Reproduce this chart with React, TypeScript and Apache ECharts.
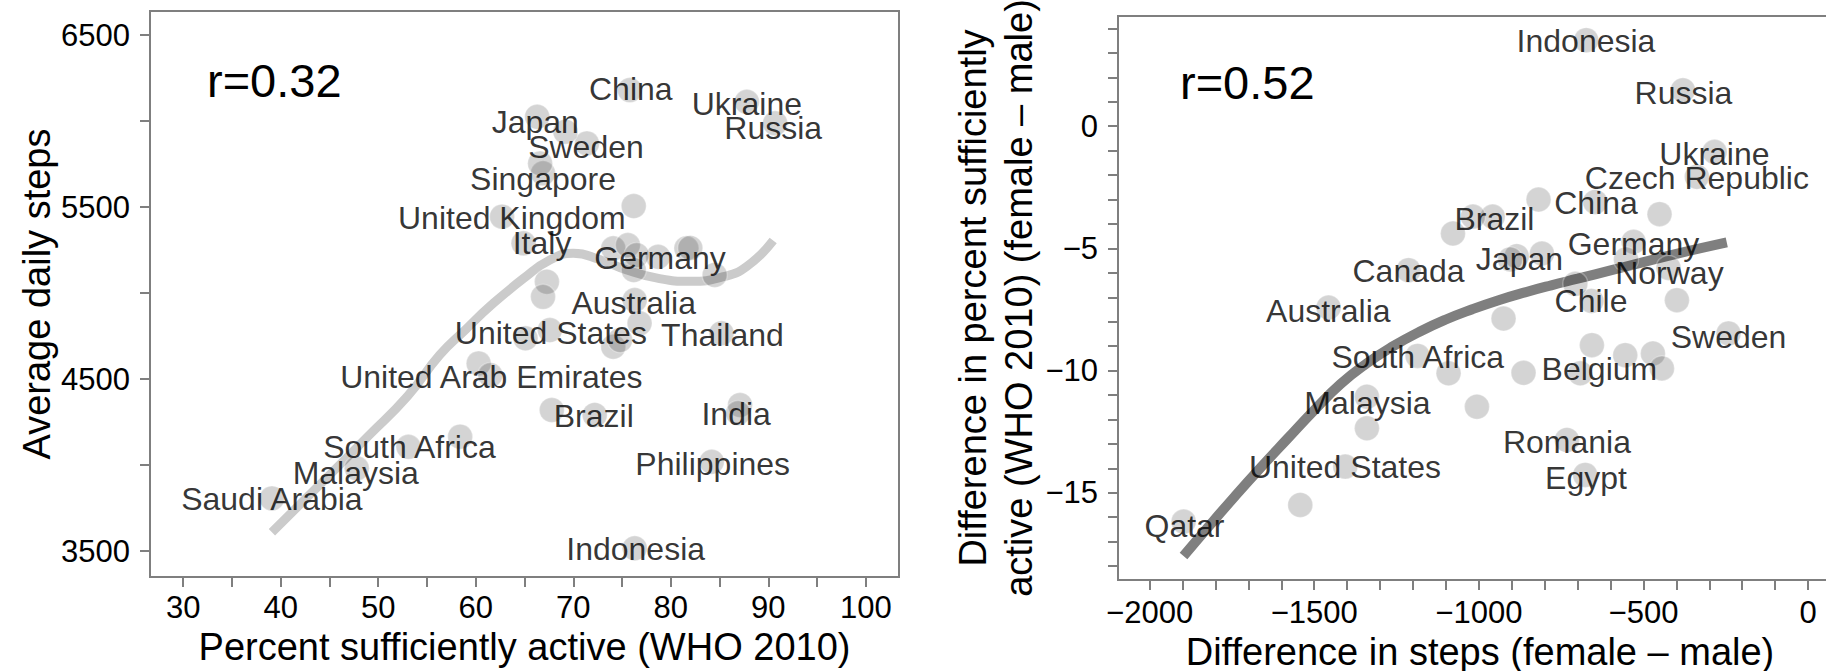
import React, { useEffect, useRef } from "react";
import * as echarts from "echarts";

const FONT = '"Liberation Sans", Arial, Helvetica, sans-serif';

// ---------- Left panel: steps vs percent sufficiently active ----------
const leftNames = [
  "Saudi Arabia", "Malaysia", "South Africa", "United Arab Emirates", "Brazil",
  "India", "Philippines", "Indonesia", "United States", "Thailand",
  "Australia", "Germany", "Italy", "United Kingdom", "Singapore",
  "Sweden", "Japan", "China", "Ukraine", "Russia",
];
const leftDotX = [39.1, 47.8, 53.1, 60.3, 72.2, 87.1, 84.2, 76.3, 67.6, 85.2, 76.3, 78.7, 64.9, 62.7, 66.9, 71.4, 66.3, 75.8, 87.8, 90.7];
const leftDotY = [3806, 3981, 4106, 4591, 4291, 4349, 4019, 3516, 4785, 4766, 4959, 5211, 5289, 5444, 5696, 5870, 6025, 6180, 6112, 5987];
const leftLabelX = [39.1, 47.7, 53.2, 61.6, 72.1, 86.7, 84.3, 76.4, 67.7, 85.3, 76.2, 78.9, 66.8, 63.7, 66.9, 71.3, 66.1, 75.9, 87.8, 90.5];
const leftLabelY = [3801, 3956, 4102, 4512, 4286, 4295, 4005, 3510, 4766, 4756, 4940, 5203, 5291, 5436, 5663, 5849, 5997, 6186, 6102, 5959];
const leftOtherX = [58.4, 61.5, 67.8, 86.9, 65.1, 74.1, 74.8, 76.8, 67.3, 66.9, 76.2, 66.6, 69.2, 74.1, 75.6, 76.5, 76.2, 81.6, 82.0, 84.5];
const leftOtherY = [4165, 4523, 4320, 4302, 4737, 4688, 4727, 4824, 5066, 4978, 5506, 5754, 5938, 5260, 5279, 5221, 5134, 5260, 5262, 5105];
const leftCurveX = [39.1, 44, 49, 53, 56.3, 59, 61.5, 64.9, 67.6, 70, 72.7, 75.5, 78.5, 82, 85.4, 87.8, 90.5];
const leftCurveY = [3609, 3885, 4170, 4400, 4640, 4790, 4925, 5085, 5192, 5231, 5195, 5134, 5088, 5068, 5095, 5155, 5305];
const leftXTicks = [30, 35, 40, 45, 50, 55, 60, 65, 70, 75, 80, 85, 90, 95, 100];
const leftXLabels = [30, 40, 50, 60, 70, 80, 90, 100];
const leftYTicks = [3500, 4000, 4500, 5000, 5500, 6000, 6500];
const leftYLabels = [3500, 4500, 5500, 6500];

// ---------- Right panel: gender differences ----------
const rightNames = [
  "Indonesia", "Russia", "Ukraine", "Czech Republic", "China", "Brazil",
  "Germany", "Japan", "Canada", "Norway", "Chile", "Australia", "Sweden",
  "South Africa", "Belgium", "Malaysia", "Romania", "United States", "Egypt", "Qatar",
];
const rightDotX = [-673.9, -380.2, -284, -337.7, -646.5, -958, -530, -885, -1213.5, -424, -658, -1456.4, -241.7, -1186, -692, -1340, -732.5, -1405.7, -676.9, -1896.7];
const rightDotY = [3.52, 1.47, -1.05, -2.07, -3.1, -3.7, -4.73, -5.32, -5.89, -5.8, -7.15, -7.42, -8.48, -9.4, -10.11, -11.07, -12.84, -13.93, -14.27, -16.18];
const rightLabelX = [-674.5, -378.4, -284.5, -337.7, -644, -952.6, -530.2, -876.7, -1213.5, -421.2, -659.2, -1457.3, -241.7, -1185.5, -633.8, -1338.3, -732.5, -1406.7, -674.5, -1894];
const rightLabelY = [3.48, 1.37, -1.15, -2.11, -3.13, -3.81, -4.83, -5.45, -5.91, -5.99, -7.15, -7.56, -8.62, -9.46, -9.95, -11.31, -12.94, -13.93, -14.38, -16.35];
const rightOtherX = [-818.7, -451.2, -1018, -1078.6, -905, -808.4, -553, -707, -398.4, -925, -656.6, -555.4, -471.3, -443.9, -864.3, -1092, -1005.8, -1340, -1542.4];
const rightOtherY = [-3.0, -3.6, -3.7, -4.39, -5.45, -5.21, -5.45, -6.45, -7.12, -7.87, -8.96, -9.37, -9.3, -9.91, -10.09, -10.11, -11.48, -12.36, -15.5];
const rightCurveX = [-1897, -1820, -1740, -1660, -1580, -1500, -1420, -1340, -1260, -1180, -1100, -1020, -940, -860, -780, -700, -600, -500, -400, -247];
const rightCurveY = [-17.59, -16.37, -15.13, -13.93, -12.77, -11.62, -10.55, -9.7, -9.0, -8.41, -7.91, -7.49, -7.12, -6.8, -6.51, -6.24, -5.9, -5.56, -5.22, -4.75];
const rightXTicks = [-2000, -1900, -1800, -1700, -1600, -1500, -1400, -1300, -1200, -1100, -1000, -900, -800, -700, -600, -500, -400, -300, -200, -100, 0];
const rightXLabels = [-2000, -1500, -1000, -500, 0];
const rightYTicks = [-18, -17, -16, -15, -14, -13, -12, -11, -10, -9, -8, -7, -6, -5, -4, -3, -2, -1, 0, 1, 2, 3, 4];
const rightYLabels = [-15, -10, -5, 0];

const leftR = "r=0.32";
const rightR = "r=0.52";

const AXIS_GREY = "#7f7f7f";
const DOT = "rgba(0,0,0,0.21)";

const minus = (v: any) => String(v).replace("-", "\u2212");

function zip(a: number[], b: number[]) {
  return a.map((v, i) => [v, b[i]]);
}

export default function App() {
  const ref = useRef<HTMLDivElement>(null);
  useEffect(() => {
    if (!ref.current) return;
    const chart = echarts.init(ref.current, null, { renderer: "svg" });

    const axisCommon = (ticks: number[], labels: number[], margin: number) => ({
      axisLine: { show: false, onZero: false },
      axisTick: {
        show: true,
        inside: false,
        length: 10,
        customValues: ticks,
        lineStyle: { color: AXIS_GREY, width: 2 },
      },
      axisLabel: {
        show: true,
        customValues: labels,
        margin,
        fontSize: 31,
        fontFamily: FONT,
        color: "#000",
        formatter: minus,
      },
      splitLine: { show: false },
      nameLocation: "middle",
      nameTextStyle: { fontSize: 38, fontFamily: FONT, color: "#000" },
    });

    const labelSeries = (xi: number, names: string[], lx: number[], ly: number[]) => ({
      type: "scatter",
      xAxisIndex: xi,
      yAxisIndex: xi,
      silent: true,
      z: 5,
      symbolSize: 1,
      itemStyle: { color: "rgba(0,0,0,0)" },
      label: {
        show: true,
        position: "inside",
        align: "center",
        verticalAlign: "middle",
        fontSize: 32,
        fontFamily: FONT,
        color: "#000",
        formatter: (p: any) => p.value[2],
      },
      data: names.map((n, i) => [lx[i], ly[i], n]),
    });

    const dotSeries = (xi: number, data: number[][]) => ({
      type: "scatter",
      xAxisIndex: xi,
      yAxisIndex: xi,
      silent: true,
      z: 3,
      symbolSize: 25,
      itemStyle: { color: DOT, borderColor: "rgba(255,255,255,0.35)", borderWidth: 1.5 },
      data,
    });

    chart.setOption({
      animation: false,
      grid: [
        { left: 150, top: 11, width: 749, height: 566, show: true, borderColor: AXIS_GREY, borderWidth: 2, backgroundColor: "transparent", outerBoundsMode: "none", containLabel: false },
        { left: 1118, top: 16, width: 724, height: 564, show: true, borderColor: AXIS_GREY, borderWidth: 2, backgroundColor: "transparent", outerBoundsMode: "none", containLabel: false },
      ],
      xAxis: [
        {
          type: "value", gridIndex: 0, min: 26.6, max: 103.4,
          ...axisCommon(leftXTicks, leftXLabels, 15),
          name: "Percent sufficiently active (WHO 2010)", nameGap: 51,
        },
        {
          type: "value", gridIndex: 1, min: -2096, max: 103,
          ...axisCommon(rightXTicks, rightXLabels, 17),
          name: "Difference in steps (female \u2013 male)", nameGap: 53,
        },
      ],
      yAxis: [
        {
          type: "value", gridIndex: 0, min: 3349, max: 6640,
          ...axisCommon(leftYTicks, leftYLabels, 20),
          name: "Average daily steps", nameGap: 94,
        },
        {
          type: "value", gridIndex: 1, min: -18.57, max: 4.51,
          ...axisCommon(rightYTicks, rightYLabels, 20),
          name: "Difference in percent sufficiently\nactive (WHO 2010) (female \u2013 male)",
          nameGap: 73,
          nameTextStyle: { fontSize: 38, fontFamily: FONT, color: "#000", lineHeight: 46 },
        },
      ],
      graphic: [
        { type: "text", x: 207, y: 80, style: { text: leftR, fontSize: 47, fontFamily: FONT, fill: "#000", align: "left", verticalAlign: "middle" } },
        { type: "text", x: 1180, y: 82, style: { text: rightR, fontSize: 47, fontFamily: FONT, fill: "#000", align: "left", verticalAlign: "middle" } },
      ],
      series: [
        {
          type: "line", xAxisIndex: 0, yAxisIndex: 0, silent: true, z: 1,
          showSymbol: false, smooth: true,
          lineStyle: { color: "#cbcbcb", width: 9, cap: "butt" },
          data: zip(leftCurveX, leftCurveY),
        },
        dotSeries(0, zip(leftDotX, leftDotY)),
        dotSeries(0, zip(leftOtherX, leftOtherY)),
        labelSeries(0, leftNames, leftLabelX, leftLabelY),
        {
          type: "line", xAxisIndex: 1, yAxisIndex: 1, silent: true, z: 1,
          showSymbol: false, smooth: true,
          lineStyle: { color: "#7f7f7f", width: 10, cap: "butt" },
          data: zip(rightCurveX, rightCurveY),
        },
        dotSeries(1, zip(rightDotX, rightDotY)),
        dotSeries(1, zip(rightOtherX, rightOtherY)),
        labelSeries(1, rightNames, rightLabelX, rightLabelY),
      ],
    } as any);

    return () => chart.dispose();
  }, []);

  return (
    <div
      ref={ref}
      style={{ position: "fixed", left: 0, top: 0, width: 1826, height: 671, overflow: "hidden", background: "#fff" }}
    />
  );
}
